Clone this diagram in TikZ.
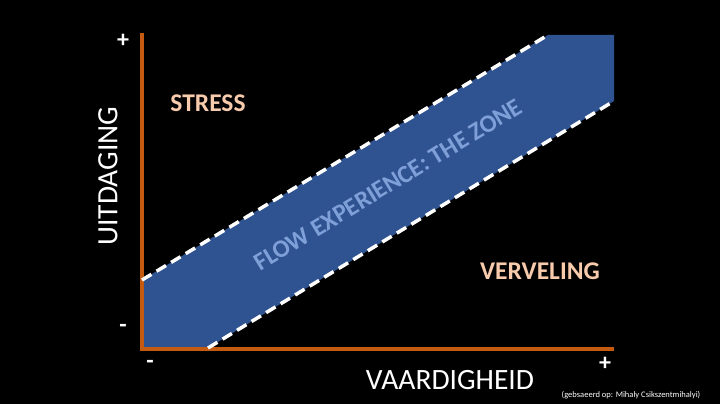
\documentclass[tikz,border=0pt]{standalone}
\usepackage{fontspec}
\setmainfont{Carlito}
\definecolor{axisorange}{HTML}{C55A11}
\definecolor{bandblue}{HTML}{2F5290}
\definecolor{flowtext}{HTML}{7F9FD8}
\definecolor{peach}{HTML}{F8CBAD}
\begin{document}
\begin{tikzpicture}[x=1pt,y=-1pt,
  axisline/.style={draw=axisorange,line width=3.5pt},
  zoneedge/.style={draw=white,line width=3.5pt,dash pattern=on 11pt off 6pt},
  sign/.style={text=white,font=\bfseries\fontsize{24}{24}\selectfont,inner sep=0pt},
  axislabel/.style={text=white,font=\fontsize{29.5}{29.5}\selectfont,inner sep=0pt},
  zonelabel/.style={text=peach,font=\bfseries\fontsize{25.5}{25.5}\selectfont,inner sep=0pt}]
\fill[black] (0,0) rectangle (720,404);
\useasboundingbox (0,0) rectangle (720,404);
% zone polygon
\coordinate (ul) at (142,280);
\coordinate (ur) at (548,35);
\coordinate (tr) at (614,35);
\coordinate (lr) at (614,101);
\coordinate (ll) at (208,348);
\coordinate (bl) at (142,348);
\fill[bandblue] (ul) -- (ur) -- (tr) -- (lr) -- (ll) -- (bl) -- cycle;
% axes
\coordinate (origin) at (142,349);
\coordinate (ytop) at (142,33);
\coordinate (xend) at (614,349);
\draw[axisline] (ytop) -- (origin) -- (xend);
% dashed edges
\draw[zoneedge] (ul) -- (ur);
\draw[zoneedge] (ll) -- (lr);
% signs
\node[sign] (yplus) at (123,41) {+};
\node[sign] (yminus) at (123,328) {-};
\node[sign] (xminus) at (150,364) {-};
\node[sign] (xplus) at (605,364) {+};
% axis labels
\node[axislabel,rotate=90] (ylab) at (108,176) {UITDAGING};
\node[axislabel] (xlab) at (450,380) {VAARDIGHEID};
% region labels
\node[zonelabel] (stress) at (208,103) {STRESS};
\node[zonelabel] (verveling) at (540,271) {VERVELING};
\node[text=flowtext,font=\bfseries\fontsize{25}{25}\selectfont,rotate=31.2,inner sep=0pt] (flow) at (388,185) {FLOW EXPERIENCE: THE ZONE};
% footnote
\node[text=white,font=\fontsize{8.5}{8.5}\selectfont,inner sep=0pt] (note) at (631,395) {(gebsaeerd op: Mihaly Csikszentmihalyi)};
\end{tikzpicture}
\end{document}
